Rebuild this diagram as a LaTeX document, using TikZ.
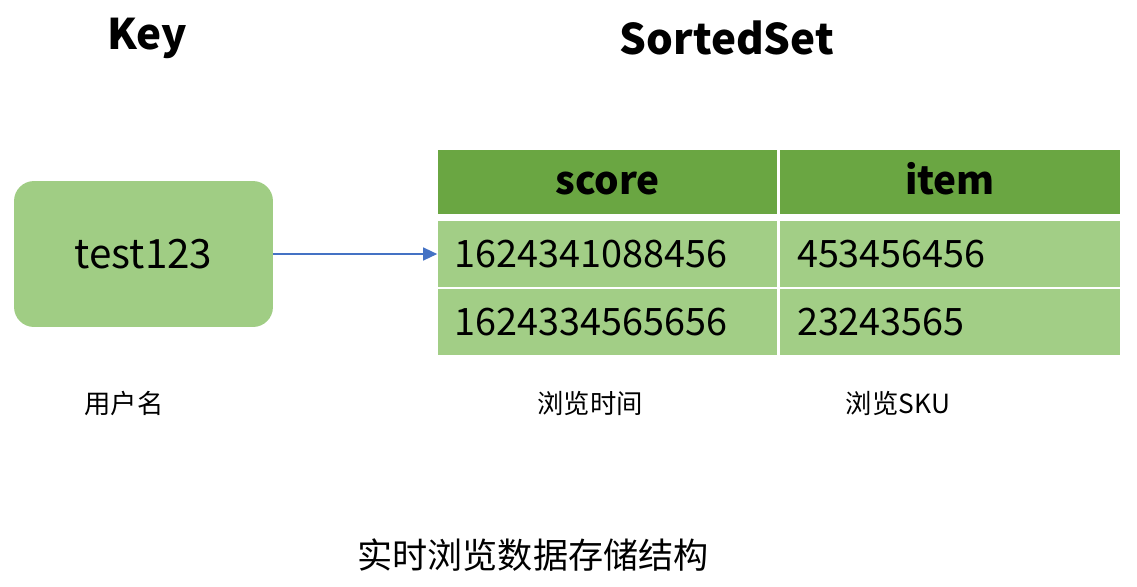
\documentclass[tikz,border=0pt]{standalone}
\usepackage{fontspec}
\setmainfont{Noto Sans CJK SC}
\usepackage{xcolor}
\definecolor{headc}{HTML}{6AA642}
\definecolor{rowc}{HTML}{A2CE86}
\definecolor{keyc}{HTML}{A0CD84}
\definecolor{arrc}{HTML}{4472C4}
\usepackage{tikz}
\usetikzlibrary{arrows.meta,positioning}
\tikzset{
  >={Triangle[length=2.8mm,width=2.6mm]},
  title/.style={font=\bfseries\fontsize{24}{28}\selectfont,inner sep=0pt},
  keybox/.style={fill=keyc,rounded corners=0.4cm,minimum width=5.18cm,minimum height=2.92cm,inner sep=0pt,font=\fontsize{23}{27}\selectfont},
  hcell/.style={fill=headc,minimum width=6.8cm,minimum height=1.28cm,inner sep=0pt,text height=1.5em,text depth=0.1em,font=\bfseries\fontsize{22}{26}\selectfont},
  dcell/.style={fill=rowc,text width=6.12cm,minimum height=1.32cm,inner xsep=0.34cm,inner ysep=0pt,align=left,font=\fontsize{21.5}{25}\selectfont},
  lbl/.style={font=\fontsize{15}{18}\selectfont,inner sep=0pt},
  captxt/.style={font=\fontsize{20}{24}\selectfont,inner sep=0pt},
  ptr/.style={->,line width=0.8pt,draw=arrc},
}
\begin{document}
\begin{tikzpicture}[x=0.02cm,y=-0.02cm]
  \useasboundingbox (0,0) rectangle (1137,586);
  % titles
  \node[title] (tkey) at (147,38) {Key};
  \node[title] (tset) at (727,38) {SortedSet};
  % key
  \node[keybox] (key) at (143.5,254) {test123};
  % sorted set table
  \node[hcell] (hs) at (607.5,182) {score};
  \node[hcell] (hi) at (950,182) {item};
  \node[dcell] (r1s) at (607.5,254) {1624341088456};
  \node[dcell] (r1i) at (950,254) {453456456};
  \node[dcell] (r2s) at (607.5,322) {1624334565656};
  \node[dcell] (r2i) at (950,322) {23243565};
  \draw[ptr] (key.east) -- (r1s.west);
  % labels
  \node[lbl] (lkey) at (124,403) {用户名};
  \node[lbl] (lscore) at (590,403) {浏览时间};
  \node[lbl] (litem) at (898,403) {浏览SKU};
  \node[captxt] (caption) at (533,555) {实时浏览数据存储结构};
\end{tikzpicture}
\end{document}
